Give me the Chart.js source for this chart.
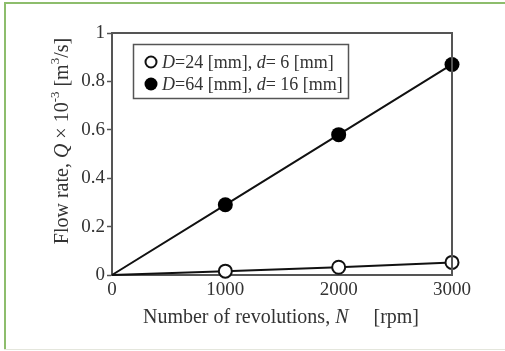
<!DOCTYPE html>
<html>
<head>
<meta charset="utf-8">
<script src="https://cdn.jsdelivr.net/npm/chart.js@4/dist/chart.umd.min.js"></script>
<style>
  html, body { margin: 0; padding: 0; background: #fff; overflow: hidden; }
  canvas { display: block; }
</style>
</head>
<body>
<canvas id="flow-chart" width="505" height="351"></canvas>
<script>
// Flow rate vs number of revolutions

const revolutions = [0, 1000, 2000, 3000];
const flowSmall = [0, 0.016, 0.032, 0.052];   // D=24, d=6
const flowLarge = [0, 0.29, 0.58, 0.87];      // D=64, d=16
const xTickValues = [0, 1000, 2000, 3000];
const yTickValues = [0, 0.2, 0.4, 0.6, 0.8, 1];

const ink = '#333';
const serif = '"Liberation Serif", "Times New Roman", serif';

function toPoints(values) {
    return revolutions.map((n, i) => ({ x: n, y: values[i] }));
}

// draws text pieces one after another, each with its own font
function drawRuns(ctx, runs, x, y) {
    runs.forEach(run => {
        ctx.font = run.font;
        const dy = run.sup ? -7 : 0;
        ctx.fillText(run.text, x, y + dy);
        x += ctx.measureText(run.text).width;
    });
    return x;
}

function runsWidth(ctx, runs) {
    let w = 0;
    runs.forEach(run => {
        ctx.font = run.font;
        w += ctx.measureText(run.text).width;
    });
    return w;
}

// page frame: green top/left, faint grey bottom
const pageFrame = {
    id: 'pageFrame',
    beforeDraw(chart) {
        const ctx = chart.ctx;
        ctx.save();
        ctx.fillStyle = '#8dbd6c';
        ctx.fillRect(4, 2, 501, 2);
        ctx.fillRect(4, 2, 2, 348);
        ctx.fillStyle = '#e4e6dc';
        ctx.fillRect(4, 349, 501, 1);
        ctx.restore();
    }
};

const decorations = {
    id: 'decorations',
    afterDraw(chart) {
        const ctx = chart.ctx;
        const area = chart.chartArea;
        ctx.save();

        // top and right frame
        ctx.strokeStyle = '#555';
        ctx.lineWidth = 2;
        ctx.beginPath();
        ctx.moveTo(area.left, area.top);
        ctx.lineTo(area.right, area.top);
        ctx.lineTo(area.right, area.bottom);
        ctx.stroke();

        ctx.fillStyle = ink;
        ctx.textBaseline = 'middle';
        ctx.textAlign = 'left';

        // x axis title
        const reg = '20px ' + serif;
        const ita = 'italic 20px ' + serif;
        const xRuns = [
            { text: 'Number of revolutions, ', font: reg },
            { text: 'N', font: ita },
            { text: '     [rpm]', font: reg }
        ];
        const xw = runsWidth(ctx, xRuns);
        drawRuns(ctx, xRuns, 281 - xw / 2, 318);

        // y axis title (rotated)
        const sup = '13px ' + serif;
        const yRuns = [
            { text: 'Flow rate, ', font: reg },
            { text: 'Q', font: ita },
            { text: ' \u00d7 10', font: reg },
            { text: '-3', font: sup, sup: true },
            { text: ' [m', font: reg },
            { text: '3', font: sup, sup: true },
            { text: '/s]', font: reg }
        ];
        const yw = runsWidth(ctx, yRuns);
        ctx.save();
        ctx.translate(63, 141);
        ctx.rotate(-Math.PI / 2);
        drawRuns(ctx, yRuns, -yw / 2, 0);
        ctx.restore();

        // legend box
        ctx.strokeStyle = '#555';
        ctx.lineWidth = 1.5;
        ctx.strokeRect(133.5, 44.5, 215, 54);

        const lreg = '18px ' + serif;
        const lita = 'italic 18px ' + serif;
        const rows = [
            { y: 62, filled: false, runs: [
                { text: 'D', font: lita }, { text: '=24 [mm], ', font: lreg },
                { text: 'd', font: lita }, { text: '= 6 [mm]', font: lreg }] },
            { y: 84, filled: true, runs: [
                { text: 'D', font: lita }, { text: '=64 [mm], ', font: lreg },
                { text: 'd', font: lita }, { text: '= 16 [mm]', font: lreg }] }
        ];
        rows.forEach(row => {
            ctx.beginPath();
            if (row.filled) {
                ctx.arc(151, row.y, 6.5, 0, Math.PI * 2);
                ctx.fillStyle = '#000';
                ctx.fill();
            } else {
                ctx.arc(151, row.y, 5.5, 0, Math.PI * 2);
                ctx.fillStyle = '#fff';
                ctx.fill();
                ctx.lineWidth = 2;
                ctx.strokeStyle = '#111';
                ctx.stroke();
            }
            ctx.fillStyle = ink;
            drawRuns(ctx, row.runs, 162, row.y + 1);
        });

        ctx.restore();
    }
};

new Chart(document.getElementById('flow-chart'), {
    type: 'scatter',
    data: {
        datasets: [
            {
                label: 'D=24 [mm], d= 6 [mm]',
                data: toPoints(flowSmall),
                showLine: true,
                borderColor: '#111',
                borderWidth: 2,
                pointRadius: [0, 6.5, 6.5, 6.5],
                pointBackgroundColor: '#fff',
                pointBorderColor: '#111',
                pointBorderWidth: 2,
                clip: false
            },
            {
                label: 'D=64 [mm], d= 16 [mm]',
                data: toPoints(flowLarge),
                showLine: true,
                borderColor: '#111',
                borderWidth: 2,
                pointRadius: [0, 7.5, 7.5, 7.5],
                pointBackgroundColor: '#000',
                pointBorderColor: '#000',
                pointBorderWidth: 0,
                clip: false
            }
        ]
    },
    options: {
        responsive: false,
        animation: false,
        devicePixelRatio: 1,
        layout: { padding: { left: 0, top: 33, right: 53, bottom: 0 } },
        plugins: {
            legend: { display: false },
            tooltip: { enabled: false }
        },
        scales: {
            x: {
                type: 'linear',
                min: 0,
                max: 3000,
                afterBuildTicks: scale => { scale.ticks = xTickValues.map(v => ({ value: v })); },
                afterFit: scale => { scale.height = 76; },
                grid: { drawOnChartArea: false, drawTicks: false },
                border: { display: true, color: '#555', width: 2 },
                ticks: {
                    color: ink,
                    padding: 4,
                    maxRotation: 0,
                    font: { family: serif, size: 19 },
                    callback: v => String(v)
                }
            },
            y: {
                type: 'linear',
                min: 0,
                max: 1,
                afterBuildTicks: scale => { scale.ticks = yTickValues.map(v => ({ value: v })); },
                afterFit: scale => { scale.width = 112; },
                grid: { drawOnChartArea: false, drawTicks: true, tickLength: 5, color: '#555', tickWidth: 1.5 },
                border: { display: true, color: '#555', width: 2 },
                ticks: {
                    color: ink,
                    padding: 2,
                    font: { family: serif, size: 19 },
                    callback: v => String(v)
                }
            }
        }
    },
    plugins: [pageFrame, decorations]
});
</script>
</body>
</html>
